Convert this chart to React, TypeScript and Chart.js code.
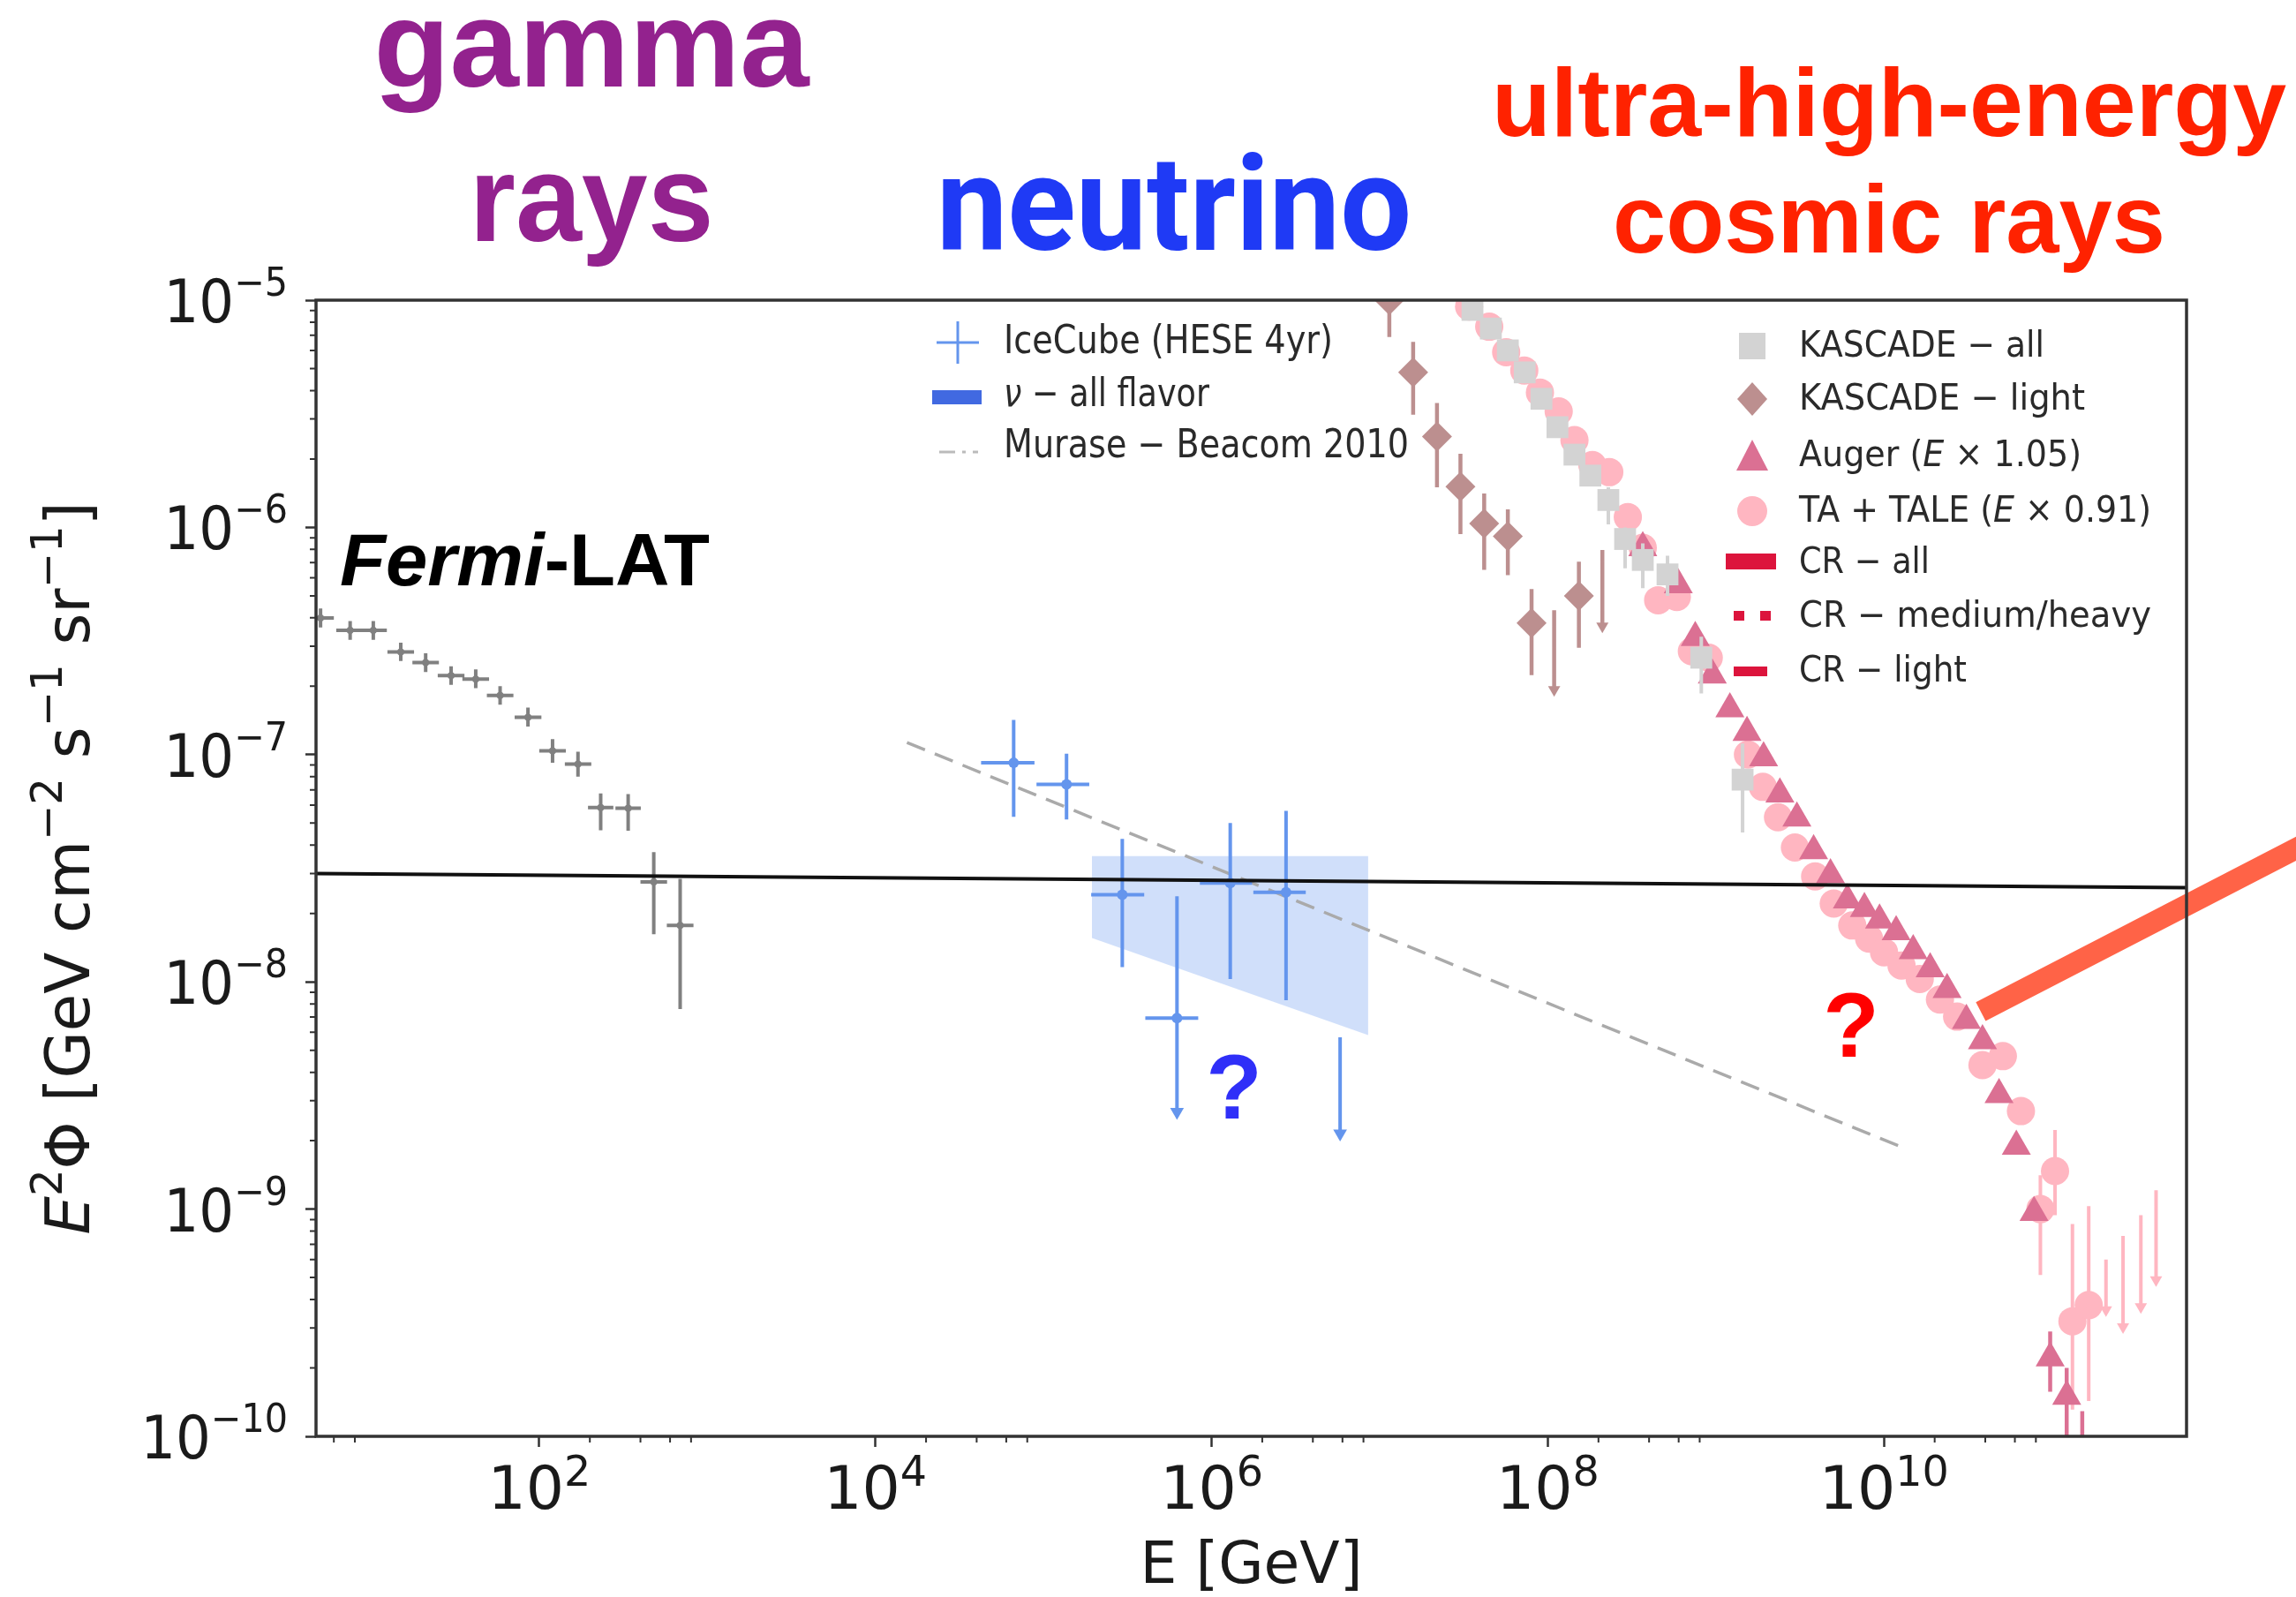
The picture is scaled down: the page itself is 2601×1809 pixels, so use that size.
import React, { useEffect, useRef } from "react";
import { Chart, registerables } from "chart.js";

Chart.register(...registerables);

// ---------------- axes ----------------
const X_MIN = 4.7;
const X_MAX = 6.3e11;
const Y_MIN = 1e-10;
const Y_MAX = 1e-5;
const X_MAJOR = [1e2, 1e4, 1e6, 1e8, 1e10];
const X_MAJOR_EXP = ["2", "4", "6", "8", "10"];
const X_MINOR_DECADES = [1, 1e2, 1e4, 1e6, 1e8, 1e10];
const X_MINOR_SUBS = [2, 4, 6, 8];
const Y_MAJOR = [1e-10, 1e-9, 1e-8, 1e-7, 1e-6, 1e-5];
const Y_MAJOR_EXP = ["\u221210", "\u22129", "\u22128", "\u22127", "\u22126", "\u22125"];
const Y_MINOR_SUBS = [2, 3, 4, 5, 6, 7, 8, 9];

// ---------------- Fermi-LAT ----------------
const FERMI_E = [5.0, 7.5, 10.3, 15.0, 21.1, 29.9, 41.9, 58.5, 85.7, 120, 170, 232, 338, 480, 689];
const FERMI_E_LO = [4.2, 6.2, 8.6, 12.5, 17.6, 24.9, 34.9, 48.8, 71.4, 100, 142, 195, 284, 400, 574];
const FERMI_E_HI = [6.0, 9.0, 12.4, 18.0, 25.3, 35.9, 50.3, 70.2, 103, 144, 204, 276, 402, 576, 827];
const FERMI_F = [3.99e-7, 3.52e-7, 3.52e-7, 2.83e-7, 2.54e-7, 2.23e-7, 2.15e-7, 1.82e-7, 1.46e-7, 1.04e-7, 9.08e-8, 5.85e-8, 5.81e-8, 2.75e-8, 1.77e-8];
const FERMI_F_LO = [3.63e-7, 3.2e-7, 3.2e-7, 2.58e-7, 2.31e-7, 2.03e-7, 1.96e-7, 1.66e-7, 1.33e-7, 9.2e-8, 8.0e-8, 4.65e-8, 4.62e-8, 1.62e-8, 7.6e-9];
const FERMI_F_HI = [4.4e-7, 3.87e-7, 3.87e-7, 3.11e-7, 2.79e-7, 2.45e-7, 2.37e-7, 2.0e-7, 1.61e-7, 1.17e-7, 1.03e-7, 6.75e-8, 6.7e-8, 3.72e-8, 2.84e-8];

// ---------------- IceCube HESE 4yr ----------------
const ICE_E = [6.64e4, 1.37e5, 2.94e5, 6.22e5, 1.29e6, 2.77e6];
const ICE_E_LO = [4.25e4, 9.08e4, 1.92e5, 4.03e5, 8.51e5, 1.77e6];
const ICE_E_HI = [8.83e4, 1.87e5, 3.97e5, 8.32e5, 1.74e6, 3.63e6];
const ICE_F = [9.2e-8, 7.4e-8, 2.42e-8, 6.93e-9, 2.72e-8, 2.48e-8];
const ICE_F_LO = [5.33e-8, 5.18e-8, 1.16e-8, 2.68e-9, 1.03e-8, 8.3e-9];
const ICE_F_HI = [1.42e-7, 1.01e-7, 4.26e-8, 2.38e-8, 5.0e-8, 5.65e-8];
const ICE_UL_E = [5.81e6];
const ICE_UL_TOP = [5.7e-9];
const ICE_UL_TIP = [2.15e-9];
const ICE_ARROW_E = [6.22e5, 5.81e6];
const ICE_ARROW_F = [2.68e-9, 2.15e-9];

// ---------------- nu all flavor band ----------------
const BAND_E = [1.94e5, 8.53e6];
const BAND_HI = [3.58e-8, 3.58e-8];
const BAND_LO = [1.56e-8, 5.83e-9];

// ---------------- Murase-Beacom 2010 ----------------
const MB_E = [1.54e4, 1.26e10];
const MB_F = [1.13e-7, 1.88e-9];

// ---------------- KASCADE light ----------------
const KL_E = [1.14e7, 1.58e7, 2.19e7, 3.02e7, 4.18e7, 5.78e7, 8.0e7, 1.53e8];
const KL_F = [1.0e-5, 4.81e-6, 2.51e-6, 1.51e-6, 1.04e-6, 9.14e-7, 3.79e-7, 4.99e-7];
const KL_F_LO = [6.89e-6, 3.13e-6, 1.5e-6, 9.35e-7, 6.5e-7, 6.17e-7, 2.24e-7, 2.95e-7];
const KL_F_HI = [1.4e-5, 6.55e-6, 3.53e-6, 2.11e-6, 1.41e-6, 1.2e-6, 5.35e-7, 7.06e-7];
const KL_UL_E = [1.09e8, 2.11e8];
const KL_UL_TOP = [4.32e-7, 7.96e-7];
const KL_UL_TIP = [1.93e-7, 3.68e-7];

// ---------------- KASCADE all ----------------
const KA_E = [3.56e7, 4.58e7, 5.78e7, 7.28e7, 9.16e7, 1.14e8, 1.44e8, 1.79e8, 2.29e8, 2.88e8, 3.67e8, 5.15e8, 8.18e8, 1.44e9];
const KA_F = [9.06e-6, 7.5e-6, 6.01e-6, 4.81e-6, 3.68e-6, 2.76e-6, 2.09e-6, 1.69e-6, 1.32e-6, 8.89e-7, 7.19e-7, 6.21e-7, 2.67e-7, 7.76e-8];
const KA_ERR_E = [2.29e8, 2.88e8, 3.67e8, 5.15e8, 8.18e8, 1.44e9];
const KA_ERR_LO = [1.03e-6, 6.6e-7, 5.4e-7, 5.0e-7, 1.86e-7, 4.54e-8];
const KA_ERR_HI = [1.5e-6, 1.0e-6, 8.5e-7, 7.5e-7, 3.3e-7, 1.12e-7];

// ---------------- TA + TALE (E x 0.91) ----------------
const TA_E = [3.40e7, 4.48e7, 5.65e7, 7.24e7, 8.97e7, 1.16e8, 1.44e8, 1.84e8, 2.32e8, 2.99e8, 3.67e8, 4.53e8, 5.85e8, 7.19e8, 9.06e8, 1.55e9, 1.90e9, 2.34e9, 2.95e9, 3.89e9, 5.02e9, 6.47e9, 8.15e9, 1.0e10, 1.27e10, 1.63e10, 2.15e10, 2.72e10, 3.85e10, 5.09e10, 6.52e10, 8.51e10, 1.04e11, 1.32e11, 1.65e11];
const TA_F = [9.38e-6, 7.64e-6, 5.90e-6, 4.90e-6, 3.92e-6, 3.24e-6, 2.42e-6, 1.88e-6, 1.75e-6, 1.11e-6, 8.13e-7, 4.78e-7, 4.94e-7, 2.85e-7, 2.67e-7, 1.0e-7, 7.21e-8, 5.30e-8, 3.90e-8, 2.91e-8, 2.21e-8, 1.77e-8, 1.55e-8, 1.35e-8, 1.18e-8, 1.03e-8, 8.36e-9, 7.03e-9, 4.30e-9, 4.71e-9, 2.70e-9, 1.0e-9, 1.47e-9, 3.21e-10, 3.78e-10];
const TA_ERR_E = [8.51e10, 1.04e11, 1.32e11, 1.65e11];
const TA_ERR_LO = [5.13e-10, 9.4e-10, 1.31e-10, 1.43e-10];
const TA_ERR_HI = [1.41e-9, 2.23e-9, 8.59e-10, 1.03e-9];
const TA_UL_E = [2.09e11, 2.64e11, 3.37e11, 4.15e11];
const TA_UL_TOP = [6.0e-10, 7.62e-10, 9.4e-10, 1.21e-9];
const TA_UL_TIP = [3.6e-10, 3.03e-10, 3.72e-10, 4.88e-10];

// ---------------- Auger (E x 1.05) ----------------
const AU_E = [3.67e8, 5.97e8, 7.53e8, 9.51e8, 1.21e9, 1.53e9, 1.92e9, 2.40e9, 3.03e9, 3.81e9, 4.80e9, 6.05e9, 7.64e9, 9.40e9, 1.18e10, 1.49e10, 1.88e10, 2.37e10, 3.09e10, 3.85e10, 4.83e10, 6.12e10, 7.80e10, 9.73e10, 1.22e11];
const AU_F = [8.13e-7, 5.58e-7, 3.27e-7, 2.24e-7, 1.59e-7, 1.25e-7, 9.68e-8, 6.70e-8, 5.25e-8, 3.77e-8, 2.96e-8, 2.29e-8, 2.10e-8, 1.87e-8, 1.66e-8, 1.37e-8, 1.14e-8, 9.25e-9, 6.76e-9, 5.50e-9, 3.19e-9, 1.89e-9, 9.66e-10, 2.21e-10, 1.50e-10];
const AU_ERR_E = [9.73e10, 1.22e11, 1.51e11];
const AU_ERR_LO = [1.57e-10, 8e-11, 8e-11];
const AU_ERR_HI = [2.89e-10, 2.0e-10, 1.29e-10];

// ---------------- overlay lines ----------------
const HLINE_E = [X_MIN, X_MAX];
const HLINE_F = [3.0e-8, 2.6e-8];
const PTR_E = [3.76e10, 9.3e12];
const PTR_F = [7.4e-9, 6.08e-8];

// ---------------- colours ----------------
const C_GRAY = "#808080";
const C_ICE = "#6495ED";
const C_BAND = "rgba(100,149,237,0.3)";
const C_ROSY = "#BC8F8F";
const C_LGRAY = "#D3D3D3";
const C_PINK = "#FFB6C1";
const C_PVR = "#DB7093";
const C_CRIMSON = "#DC143C";

type P = { x: number; y: number | null };
const pts = (xs: number[], ys: number[]): P[] => xs.map((x, i) => ({ x, y: ys[i] }));
const vseg = (xs: number[], lo: number[], hi: number[]): P[] => {
  const out: P[] = [];
  xs.forEach((x, i) => out.push({ x, y: lo[i] }, { x, y: hi[i] }, { x, y: null }));
  return out;
};
const hseg = (lo: number[], hi: number[], ys: number[]): P[] => {
  const out: P[] = [];
  ys.forEach((y, i) => out.push({ x: lo[i], y }, { x: hi[i], y }, { x: hi[i], y: null }));
  return out;
};

const lineDs = (label: string, data: P[], color: string, width: number, order: number, extra: any = {}) => ({
  type: "line",
  label,
  data,
  borderColor: color,
  borderWidth: width,
  pointRadius: 0,
  fill: false,
  spanGaps: false,
  tension: 0,
  borderCapStyle: "butt",
  order,
  ...extra,
});
const markDs = (label: string, data: P[], color: string, style: string, radius: number, order: number, extra: any = {}) => ({
  type: "scatter",
  label,
  data,
  showLine: false,
  pointStyle: style,
  pointRadius: radius,
  pointBackgroundColor: color,
  pointBorderColor: color,
  pointBorderWidth: 0,
  backgroundColor: color,
  borderColor: color,
  order,
  ...extra,
});

// ---------------- text helper ----------------
type Seg = { t: string; it?: boolean; sup?: boolean };
function rich(
  ctx: CanvasRenderingContext2D,
  segs: Seg[],
  x: number,
  y: number,
  size: number,
  o: { family: string; weight?: string; color: string; align: "left" | "center" | "right"; width?: number; sx?: number; supScale?: number; supRise?: number }
) {
  const ss = o.supScale ?? 0.68;
  const rise = o.supRise ?? 0.42;
  const fontOf = (s: Seg) => `${s.it ? "italic " : ""}${o.weight ?? "normal"} ${s.sup ? size * ss : size}px ${o.family}`;
  let total = 0;
  const ws = segs.map((s) => {
    ctx.font = fontOf(s);
    const w = ctx.measureText(s.t).width;
    total += w;
    return w;
  });
  const sx = o.width ? o.width / total : o.sx ?? 1;
  ctx.save();
  ctx.translate(x, y);
  ctx.scale(sx, 1);
  let cx = o.align === "left" ? 0 : o.align === "center" ? -total / 2 : -total;
  ctx.fillStyle = o.color;
  ctx.textAlign = "left";
  ctx.textBaseline = "alphabetic";
  segs.forEach((s, i) => {
    ctx.font = fontOf(s);
    ctx.fillText(s.t, cx, s.sup ? -size * rise : 0);
    cx += ws[i];
  });
  ctx.restore();
}

const DV = "'DejaVu Sans'";
const LS = "'Liberation Sans'";

const decor = {
  id: "decor",
  afterDatasetsDraw(chart: any) {
    const { ctx, chartArea: a } = chart;
    ctx.save();
    ctx.strokeStyle = "#333";
    ctx.lineWidth = 3.5;
    ctx.strokeRect(a.left, a.top, a.right - a.left, a.bottom - a.top);
    ctx.restore();
  },
  afterDraw(chart: any) {
    const { ctx, chartArea: a } = chart;
    const xs = chart.scales.x;
    const ys = chart.scales.y;
    ctx.save();
    // minor ticks
    ctx.strokeStyle = "#333";
    ctx.lineWidth = 2;
    ctx.beginPath();
    X_MINOR_DECADES.forEach((d) =>
      X_MINOR_SUBS.forEach((m) => {
        const v = d * m;
        if (v < X_MIN || v > X_MAX) return;
        const px = xs.getPixelForValue(v);
        ctx.moveTo(px, a.bottom);
        ctx.lineTo(px, a.bottom + 7);
      })
    );
    Y_MAJOR.slice(0, -1).forEach((d) =>
      Y_MINOR_SUBS.forEach((m) => {
        const py = ys.getPixelForValue(d * m);
        ctx.moveTo(a.left, py);
        ctx.lineTo(a.left - 7, py);
      })
    );
    ctx.stroke();

    // tick labels
    Y_MAJOR.forEach((v, i) => {
      const py = ys.getPixelForValue(v);
      rich(ctx, [{ t: "10" }, { t: Y_MAJOR_EXP[i], sup: true }], 326, py + 25, 68, {
        family: DV, color: "#1a1a1a", align: "right", sx: 0.92, supScale: 0.66, supRise: 0.44,
      });
    });
    X_MAJOR.forEach((v, i) => {
      const px = xs.getPixelForValue(v);
      rich(ctx, [{ t: "10" }, { t: X_MAJOR_EXP[i], sup: true }], px, 1709, 68, {
        family: DV, color: "#1a1a1a", align: "center", supScale: 0.7, supRise: 0.38,
      });
    });

    // axis titles
    rich(ctx, [{ t: "E [GeV]" }], (a.left + a.right) / 2, 1793, 66, { family: DV, color: "#1a1a1a", align: "center", width: 252 });
    ctx.save();
    ctx.translate(101, (a.top + a.bottom) / 2);
    ctx.rotate(-Math.PI / 2);
    rich(
      ctx,
      [
        { t: "E", it: true }, { t: "2", sup: true }, { t: "\u03A6 [GeV cm" }, { t: "\u22122", sup: true },
        { t: " s" }, { t: "\u22121", sup: true }, { t: " sr" }, { t: "\u22121", sup: true }, { t: "]" },
      ],
      0, 0, 70, { family: DV, color: "#1a1a1a", align: "center", width: 830, supScale: 0.7, supRise: 0.45 }
    );
    ctx.restore();

    // ---- legend 1 ----
    const txt = "#2a2a2a";
    ctx.strokeStyle = C_ICE;
    ctx.lineWidth = 3;
    ctx.beginPath();
    ctx.moveTo(1061, 388); ctx.lineTo(1109, 388);
    ctx.moveTo(1085, 364); ctx.lineTo(1085, 412);
    ctx.stroke();
    ctx.fillStyle = "#4169E1";
    ctx.fillRect(1056, 442, 56, 16);
    ctx.strokeStyle = "#bbbbbb";
    ctx.lineWidth = 3;
    ctx.setLineDash([18, 8, 4, 8]);
    ctx.beginPath();
    ctx.moveTo(1064, 512); ctx.lineTo(1108, 512);
    ctx.stroke();
    ctx.setLineDash([]);
    rich(ctx, [{ t: "IceCube (HESE 4yr)" }], 1137, 400, 44, { family: DV, color: txt, align: "left", width: 373 });
    rich(ctx, [{ t: "\u03BD", it: true }, { t: " \u2212 all flavor" }], 1137, 460, 44, { family: DV, color: txt, align: "left", width: 233 });
    rich(ctx, [{ t: "Murase \u2212 Beacom 2010" }], 1137, 518, 44, { family: DV, color: txt, align: "left", width: 459 });

    // ---- legend 2 ----
    const mx = 1985;
    ctx.fillStyle = C_LGRAY;
    ctx.fillRect(mx - 15, 377, 30, 30);
    ctx.fillStyle = C_ROSY;
    ctx.beginPath();
    ctx.moveTo(mx, 433); ctx.lineTo(mx + 17, 452); ctx.lineTo(mx, 471); ctx.lineTo(mx - 17, 452); ctx.closePath();
    ctx.fill();
    ctx.fillStyle = C_PVR;
    ctx.beginPath();
    ctx.moveTo(mx, 498); ctx.lineTo(mx + 18, 533); ctx.lineTo(mx - 18, 533); ctx.closePath();
    ctx.fill();
    ctx.fillStyle = C_PINK;
    ctx.beginPath();
    ctx.arc(mx, 579, 17, 0, Math.PI * 2);
    ctx.fill();
    ctx.fillStyle = C_CRIMSON;
    ctx.fillRect(1955, 627, 57, 18);
    ctx.fillRect(1964, 692, 12, 11);
    ctx.fillRect(1994, 692, 12, 11);
    ctx.fillRect(1964, 755, 38, 11);
    const L2 = { family: DV, color: txt, align: "left" as const };
    rich(ctx, [{ t: "KASCADE \u2212 all" }], 2038, 404, 41, { ...L2, width: 278 });
    rich(ctx, [{ t: "KASCADE \u2212 light" }], 2038, 464, 41, { ...L2, width: 324 });
    rich(ctx, [{ t: "Auger (" }, { t: "E", it: true }, { t: " \u00D7 1.05)" }], 2038, 528, 41, { ...L2, width: 320 });
    rich(ctx, [{ t: "TA + TALE (" }, { t: "E", it: true }, { t: " \u00D7 0.91)" }], 2038, 591, 41, { ...L2, width: 399 });
    rich(ctx, [{ t: "CR \u2212 all" }], 2038, 649, 41, { ...L2, width: 148 });
    rich(ctx, [{ t: "CR \u2212 medium/heavy" }], 2038, 710, 41, { ...L2, width: 399 });
    rich(ctx, [{ t: "CR \u2212 light" }], 2038, 772, 41, { ...L2, width: 190 });

    // ---- annotations ----
    rich(ctx, [{ t: "gamma" }], 670, 98, 140, { family: LS, weight: "bold", color: "#93228E", align: "center", width: 493 });
    rich(ctx, [{ t: "rays" }], 670, 273, 140, { family: LS, weight: "bold", color: "#93228E", align: "center", width: 277 });
    rich(ctx, [{ t: "neutrino" }], 1330, 283, 150, { family: "Roboto", weight: "bold", color: "#1F3AF5", align: "center", width: 538 });
    rich(ctx, [{ t: "ultra-high-energy" }], 2140, 154, 110, { family: LS, weight: "bold", color: "#FF2200", align: "center", width: 900 });
    rich(ctx, [{ t: "cosmic rays" }], 2140, 286, 110, { family: LS, weight: "bold", color: "#FF2200", align: "center", width: 626 });
    rich(ctx, [{ t: "Fermi", it: true }, { t: "-LAT" }], 385, 663, 84, { family: LS, weight: "bold", color: "#000", align: "left", width: 419 });
    rich(ctx, [{ t: "?" }], 1398, 1267, 104, { family: LS, weight: "bold", color: "#2F2FF8", align: "center" });
    rich(ctx, [{ t: "?" }], 2097, 1197, 104, { family: LS, weight: "bold", color: "#FF0000", align: "center" });
    ctx.restore();
  },
};

export default function App() {
  const ref = useRef<HTMLCanvasElement | null>(null);
  useEffect(() => {
    document.body.style.margin = "0";
    document.body.style.overflow = "hidden";
    const canvas = ref.current;
    if (!canvas) return;
    const datasets: any[] = [
      // band (top then bottom, fill between)
      lineDs("\u03BD \u2212 all flavor", pts(BAND_E, BAND_HI), "rgba(0,0,0,0)", 1, 30, { fill: "+1", backgroundColor: C_BAND }),
      lineDs("band-lo", pts(BAND_E, BAND_LO), "rgba(0,0,0,0)", 1, 30),
      lineDs("Murase \u2212 Beacom 2010", pts(MB_E, MB_F), "#aaaaaa", 3.5, 29, { borderDash: [22, 12] }),
      // Fermi
      lineDs("Fermi-LAT err", [...vseg(FERMI_E, FERMI_F_LO, FERMI_F_HI), ...hseg(FERMI_E_LO, FERMI_E_HI, FERMI_F)], C_GRAY, 4, 28),
      markDs("Fermi-LAT", pts(FERMI_E, FERMI_F), C_GRAY, "circle", 4, 27),
      // IceCube
      lineDs("IceCube err", [...vseg(ICE_E, ICE_F_LO, ICE_F_HI), ...hseg(ICE_E_LO, ICE_E_HI, ICE_F), ...vseg(ICE_UL_E, ICE_UL_TIP, ICE_UL_TOP)], C_ICE, 4, 26),
      markDs("IceCube arrows", pts(ICE_ARROW_E, ICE_ARROW_F), C_ICE, "triangle", 9, 26, { pointRotation: 180 }),
      markDs("IceCube (HESE 4yr)", pts(ICE_E, ICE_F), C_ICE, "circle", 6, 25),
      // KASCADE light
      lineDs("KASCADE light err", [...vseg(KL_E, KL_F_LO, KL_F_HI), ...vseg(KL_UL_E, KL_UL_TIP, KL_UL_TOP)], C_ROSY, 4.5, 24),
      markDs("KASCADE light arrows", pts(KL_UL_E, KL_UL_TIP), C_ROSY, "triangle", 8, 24, { pointRotation: 180 }),
      markDs("KASCADE \u2212 light", pts(KL_E, KL_F), C_ROSY, "rectRot", 17, 23),
      // TA + TALE
      lineDs("TA err", [...vseg(TA_ERR_E, TA_ERR_LO, TA_ERR_HI), ...vseg(TA_UL_E, TA_UL_TIP, TA_UL_TOP)], C_PINK, 4, 22),
      markDs("TA arrows", pts(TA_UL_E, TA_UL_TIP), C_PINK, "triangle", 8, 22, { pointRotation: 180 }),
      markDs("TA + TALE", pts(TA_E, TA_F), C_PINK, "circle", 16, 21),
      // Auger
      lineDs("Auger err", vseg(AU_ERR_E, AU_ERR_LO, AU_ERR_HI), C_PVR, 4.5, 20),
      markDs("Auger", pts(AU_E, AU_F), C_PVR, "triangle", 19, 19),
      // KASCADE all
      lineDs("KASCADE all err", vseg(KA_ERR_E, KA_ERR_LO, KA_ERR_HI), C_LGRAY, 4, 18),
      markDs("KASCADE \u2212 all", pts(KA_E, KA_F), C_LGRAY, "rect", 17.5, 17),
      // overlays
      lineDs("level", pts(HLINE_E, HLINE_F), "#111111", 4, 2),
      lineDs("pointer", pts(PTR_E, PTR_F), "#FF6347", 24, 1, { clip: false }),
    ];
    const chart = new Chart(canvas, {
      type: "scatter",
      data: { datasets },
      options: {
        responsive: false,
        animation: false,
        devicePixelRatio: 1,
        events: [],
        layout: { padding: { left: 0, top: 340, right: 124, bottom: 0 } },
        plugins: { legend: { display: false }, tooltip: { enabled: false }, title: { display: false } },
        scales: {
          x: {
            type: "logarithmic",
            min: X_MIN,
            max: X_MAX,
            bounds: "data",
            afterBuildTicks: (ax: any) => {
              ax.ticks = X_MAJOR.map((v) => ({ value: v, major: true }));
            },
            afterFit: (ax: any) => {
              ax.height = 182;
            },
            ticks: { display: false },
            grid: { drawOnChartArea: false, drawTicks: true, tickLength: 12, tickWidth: 2.5, tickColor: "#333" },
            border: { display: false },
          },
          y: {
            type: "logarithmic",
            min: Y_MIN,
            max: Y_MAX,
            bounds: "data",
            afterBuildTicks: (ax: any) => {
              ax.ticks = Y_MAJOR.map((v) => ({ value: v, major: true }));
            },
            afterFit: (ax: any) => {
              ax.width = 358;
            },
            ticks: { display: false },
            grid: { drawOnChartArea: false, drawTicks: true, tickLength: 12, tickWidth: 2.5, tickColor: "#333" },
            border: { display: false },
          },
        },
      } as any,
      plugins: [decor],
    } as any);
    return () => chart.destroy();
  }, []);
  return (
    <div style={{ position: "absolute", left: 0, top: 0, width: 2601, height: 1809, background: "#fff" }}>
      <canvas ref={ref} width={2601} height={1809} style={{ display: "block" }} />
    </div>
  );
}
